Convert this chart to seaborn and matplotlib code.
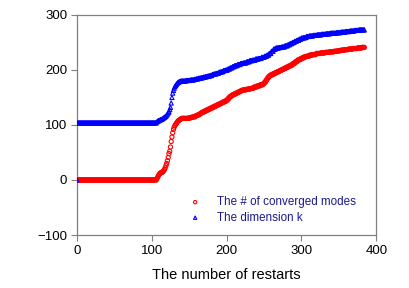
import numpy as np
import pandas as pd
import matplotlib
matplotlib.use("Agg")
import matplotlib.pyplot as plt
import seaborn as sns

# ---- data (step series, run-length encoded: value, repeat count) ----
conv_vals = [0] + [3, 5, 8, 10, 12, 13, 14, 14, 15, 17, 19, 22, 26, 30, 35, 41, 48, 52, 60, 70,
                   78, 86, 92, 96, 99, 101, 103, 105, 107, 108, 109, 110, 111] + \
            [112, 113, 114, 115, 117, 118, 119, 121, 123, 125, 127, 129, 131, 133, 135, 137, 139,
             141, 143, 145, 148, 151, 153, 155, 157, 159, 161, 163, 164, 165, 166, 167, 169, 171,
             173, 175, 178, 182, 186, 189, 191, 193, 195, 197, 199, 201, 203, 205, 207, 209, 212,
             215, 218, 220, 222, 224, 225, 227, 228, 230, 231, 232, 233, 234, 235, 236, 237, 238,
             239, 240, 241]
conv_runs = [107] + [1] * 33 + \
            [10, 3, 3, 3, 2, 2, 2, 2, 3, 3, 3, 3, 3, 3, 3, 3, 3,
             3, 3, 2, 2, 2, 2, 3, 3, 3, 3, 3, 4, 4, 3, 3, 4, 4,
             4, 2, 2, 2, 2, 2, 3, 3, 3, 3, 3, 3, 3, 3, 3, 3, 3,
             3, 3, 3, 3, 3, 4, 4, 5, 6, 6, 6, 6, 5, 4, 5, 5, 6,
             6, 6, 4]

dim_vals = [0, 104] + [106, 107, 108, 108, 109, 110, 110, 111, 112, 113, 114, 115, 116, 118, 120,
                       122, 124, 128, 132, 140, 150, 158, 163, 167, 170, 172, 174, 176, 177, 178,
                       179, 179, 180] + \
           [180, 181, 182, 183, 184, 185, 186, 187, 188, 189, 190, 192, 193, 194, 196, 197, 199,
            200, 202, 204, 206, 208, 210, 212, 213, 215, 217, 218, 220, 221, 223, 225, 227, 230,
            234, 238, 240, 241, 242, 244, 246, 248, 250, 252, 254, 256, 258, 259, 261, 262, 263,
            264, 265, 266, 267, 268, 269, 270, 271, 272, 273]
dim_runs = [1, 106] + [1] * 33 + \
           [6, 6, 5, 3, 3, 3, 3, 3, 3, 3, 3, 3, 3, 3, 3, 3, 3,
            3, 3, 3, 3, 4, 4, 4, 4, 4, 4, 4, 4, 4, 4, 3, 3, 3,
            3, 3, 4, 4, 4, 4, 3, 3, 3, 3, 3, 3, 3, 4, 4, 5, 5,
            6, 6, 6, 8, 6, 6, 6, 6, 6, 8]

labels = ["The # of converged modes", "The dimension k"]
xticks = [0, 100, 200, 300, 400]
yticks = [-100, 0, 100, 200, 300]

conv = np.repeat(conv_vals, conv_runs)
dim = np.repeat(dim_vals, dim_runs)
df_conv = pd.DataFrame({"restart": np.arange(len(conv)), "value": conv})
df_dim = pd.DataFrame({"restart": np.arange(len(dim)), "value": dim})

sns.set_theme(style="white")
plt.rcParams["font.family"] = ["Liberation Sans", "DejaVu Sans"]

fig = plt.figure(figsize=(4.09, 2.88), dpi=100)
ax = fig.add_axes([0.188, 0.184, 0.732, 0.764])

sns.scatterplot(data=df_conv, x="restart", y="value", ax=ax, marker="o", s=9,
                facecolors="none", edgecolor="#ff0000", linewidth=0.8,
                label=labels[0], zorder=3)
sns.scatterplot(data=df_dim, x="restart", y="value", ax=ax, marker="^", s=9,
                facecolors="none", edgecolor="#0000ff", linewidth=0.8,
                label=labels[1], zorder=3)

ax.set_xlim(0, 400)
ax.set_ylim(-100, 300)
ax.set_xticks(xticks)
ax.set_yticks(yticks)
ax.tick_params(axis="both", direction="out", length=4, width=0.8, color="#808080",
               labelsize=9.5, labelcolor="black", pad=3, bottom=True, left=True)
for sp in ax.spines.values():
    sp.set_color("#808080")
    sp.set_linewidth(0.9)
ax.set_xlabel("The number of restarts", fontsize=10.5, color="black", labelpad=8)
ax.set_ylabel("")

leg = ax.legend(loc="lower left", bbox_to_anchor=(0.36, 0.03), frameon=False,
                fontsize=8.4, handletextpad=1.35, labelspacing=0.3,
                handlelength=1.0, borderaxespad=0, markerscale=0.8)
for t in leg.get_texts():
    t.set_color("#1a1a8c")

fig.savefig("out.png", dpi=100)
